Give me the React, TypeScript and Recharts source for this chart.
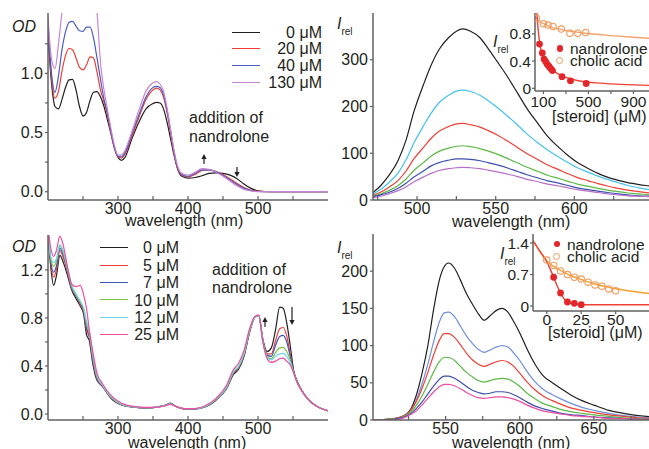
import React from 'react';
import { LineChart, ComposedChart, Line, Scatter, XAxis, YAxis } from 'recharts';

const FONT = '"Liberation Sans", Arial, Helvetica, sans-serif';
const INK = '#231f20';
const FRAME = '#606060';

// top left: absorption, nandrolone 0-130 uM
const absTopWl = [200, 205, 210, 215, 220, 225, 230, 235, 240, 245, 250, 255, 260, 265, 270, 275, 280, 285, 290, 295, 300, 305, 310,
  320, 330, 340, 350, 355, 360, 365, 370, 375, 380, 385, 390, 400, 410, 420, 430, 440, 450, 460, 470, 480, 490, 500, 520, 550, 600];
const absTop0 = [1.32, 0.92, 0.72, 0.70, 0.78, 0.88, 0.945, 0.95, 0.86, 0.72, 0.64, 0.67, 0.77, 0.84, 0.845, 0.80, 0.72, 0.605, 0.49, 0.37, 0.29, 0.265, 0.29,
  0.45, 0.59, 0.70, 0.745, 0.755, 0.75, 0.70, 0.59, 0.45, 0.31, 0.195, 0.135, 0.115, 0.12, 0.135, 0.155, 0.16, 0.155, 0.14, 0.11, 0.065, 0.028, 0.008, 0, 0, 0];
const absTop20 = [1.38, 0.96, 0.79, 0.85, 1.02, 1.15, 1.21, 1.20, 1.13, 1.05, 1.03, 1.07, 1.14, 1.13, 1.01, 0.86, 0.76, 0.65, 0.49, 0.365, 0.295, 0.285, 0.32,
  0.47, 0.63, 0.78, 0.86, 0.875, 0.86, 0.80, 0.67, 0.50, 0.33, 0.20, 0.145, 0.125, 0.145, 0.18, 0.185, 0.17, 0.145, 0.11, 0.07, 0.035, 0.012, 0.003, 0, 0, 0];
const absTop40 = [1.42, 1.00, 0.84, 0.98, 1.20, 1.35, 1.43, 1.44, 1.40, 1.36, 1.355, 1.39, 1.39, 1.30, 1.13, 0.95, 0.78, 0.665, 0.51, 0.37, 0.30, 0.295, 0.33,
  0.49, 0.65, 0.80, 0.88, 0.89, 0.88, 0.82, 0.69, 0.52, 0.34, 0.21, 0.15, 0.13, 0.155, 0.185, 0.185, 0.17, 0.14, 0.10, 0.06, 0.03, 0.01, 0.002, 0, 0, 0];
const absTop130 = [1.48, 1.12, 1.04, 1.25, 1.52, 1.75, 1.9, 2.0, 2.0, 1.95, 1.95, 1.98, 1.95, 1.80, 1.52, 1.09, 0.86, 0.69, 0.53, 0.39, 0.31, 0.31, 0.35,
  0.51, 0.69, 0.85, 0.92, 0.93, 0.91, 0.85, 0.71, 0.53, 0.35, 0.22, 0.16, 0.14, 0.165, 0.195, 0.19, 0.165, 0.13, 0.09, 0.05, 0.02, 0.006, 0, 0, 0, 0];
const absTopLabels = ['0 μM', '20 μM', '40 μM', '130 μM'];

// top right: emission, nandrolone titration
const emTopWl = [472, 477, 482, 488, 493, 498, 504, 509, 514, 520, 525, 529, 534, 540, 545, 551, 558, 564, 570, 577, 583, 590, 596, 602, 609, 615, 621, 628, 634, 641, 648, 655];
const emTopA = [16, 31, 52, 85, 128, 189, 246, 289, 322, 347, 361, 366, 361, 347, 325, 296, 261, 228, 195, 163, 136, 113, 95, 80, 67, 57, 49, 42, 37, 33, 30, 27];
const emTopB = [13, 23, 37, 58, 86, 122, 158, 186, 208, 224, 233, 235, 232, 224, 213, 198, 178, 160, 141, 122, 107, 92, 80, 69, 59, 51, 44, 37, 31, 26, 22, 19];
const emTopC = [10, 17, 27, 42, 62, 88, 112, 132, 147, 157, 163, 164, 161, 156, 149, 139, 125, 112, 99, 86, 75, 65, 56, 48, 41, 35, 30, 25, 21, 18, 15, 13];
const emTopD = [8, 13, 20, 31, 45, 63, 80, 94, 104, 111, 115, 116, 114, 110, 105, 98, 88, 79, 70, 61, 53, 46, 40, 34, 29, 25, 21, 18, 15, 13, 11, 10];
const emTopE = [7, 11, 16, 25, 36, 49, 62, 73, 80, 85, 88, 88, 87, 84, 80, 75, 68, 61, 54, 47, 41, 36, 31, 26, 22, 19, 16, 13, 11, 9, 8, 7];
const emTopF = [5, 8, 13, 20, 28, 39, 49, 57, 63, 67, 69, 70, 69, 67, 64, 60, 55, 50, 44, 39, 34, 30, 26, 22, 19, 16, 13, 11, 9, 8, 7, 6];

// top right inset: [steroid] (uM) vs I_rel
const nandTopX = [65, 90, 105, 120, 135, 150, 165, 180, 265, 340, 480];
const nandTopY = [0.65, 0.52, 0.43, 0.39, 0.35, 0.32, 0.29, 0.26, 0.17, 0.11, 0.07];
const cholTopX = [38, 100, 140, 185, 258, 335, 405, 475];
const cholTopY = [1.03, 0.95, 0.93, 0.91, 0.87, 0.81, 0.81, 0.82];
const nandTopFitX = [40, 50, 60, 70, 85, 100, 120, 140, 170, 200, 250, 300, 400, 500, 700, 900, 1100];
const nandTopFitY = [1.15, 0.92, 0.75, 0.63, 0.52, 0.45, 0.39, 0.34, 0.285, 0.245, 0.195, 0.16, 0.115, 0.09, 0.065, 0.05, 0.04];
const cholTopFitX = [25, 50, 100, 150, 200, 300, 400, 500, 700, 900, 1100];
const cholTopFitY = [1.06, 1.0, 0.95, 0.91, 0.885, 0.85, 0.825, 0.805, 0.775, 0.75, 0.73];

// bottom left: absorption, nandrolone 0-25 uM
const absBotWl = [200, 204, 208, 212, 217, 222, 228, 234, 240, 246, 251, 255, 259, 264, 270, 278, 290, 305, 320, 340,
  360, 368, 375, 382, 395, 410, 425, 440, 455, 465, 472, 480, 488, 495, 501, 507, 513, 519, 525, 531,
  536, 541, 546, 551, 556, 563, 572, 585, 600];
const absBot0 = [1.50, 1.22, 1.07, 1.15, 1.32, 1.26, 1.15, 1.03, 0.96, 0.90, 0.83, 0.66, 0.61, 0.42, 0.28, 0.23, 0.13, 0.075, 0.058, 0.05,
  0.063, 0.075, 0.09, 0.065, 0.042, 0.042, 0.06, 0.115, 0.21, 0.33, 0.37, 0.48, 0.68, 0.80, 0.82, 0.62, 0.52, 0.55, 0.70, 0.89,
  0.88, 0.76, 0.57, 0.36, 0.27, 0.19, 0.12, 0.06, 0.028];
const absBot5 = [1.52, 1.25, 1.14, 1.20, 1.36, 1.30, 1.18, 1.04, 0.98, 0.91, 0.85, 0.70, 0.64, 0.45, 0.29, 0.23, 0.135, 0.077, 0.059, 0.05,
  0.062, 0.073, 0.087, 0.064, 0.042, 0.043, 0.062, 0.118, 0.215, 0.34, 0.38, 0.49, 0.69, 0.80, 0.82, 0.61, 0.50, 0.50, 0.61, 0.71,
  0.72, 0.65, 0.50, 0.35, 0.27, 0.19, 0.12, 0.06, 0.027];
const absBot7 = [1.52, 1.27, 1.18, 1.23, 1.38, 1.32, 1.19, 1.05, 0.985, 0.92, 0.86, 0.72, 0.65, 0.46, 0.30, 0.23, 0.138, 0.078, 0.06, 0.051,
  0.062, 0.073, 0.086, 0.064, 0.043, 0.043, 0.063, 0.12, 0.218, 0.345, 0.385, 0.495, 0.69, 0.80, 0.82, 0.61, 0.49, 0.48, 0.57, 0.645,
  0.655, 0.60, 0.48, 0.35, 0.27, 0.19, 0.12, 0.06, 0.027];
const absBot10 = [1.53, 1.29, 1.23, 1.27, 1.40, 1.34, 1.20, 1.06, 0.99, 0.93, 0.87, 0.75, 0.67, 0.48, 0.31, 0.235, 0.14, 0.08, 0.061, 0.052,
  0.062, 0.072, 0.085, 0.064, 0.044, 0.044, 0.064, 0.122, 0.22, 0.35, 0.39, 0.50, 0.69, 0.80, 0.82, 0.60, 0.48, 0.46, 0.51, 0.55,
  0.555, 0.52, 0.45, 0.34, 0.26, 0.19, 0.12, 0.06, 0.026];
const absBot12 = [1.53, 1.31, 1.26, 1.29, 1.41, 1.35, 1.21, 1.07, 1.00, 0.94, 0.88, 0.77, 0.69, 0.49, 0.315, 0.24, 0.145, 0.082, 0.062, 0.053,
  0.062, 0.072, 0.084, 0.064, 0.044, 0.044, 0.065, 0.124, 0.222, 0.355, 0.395, 0.505, 0.70, 0.80, 0.82, 0.60, 0.47, 0.45, 0.48, 0.50,
  0.505, 0.48, 0.43, 0.34, 0.26, 0.19, 0.12, 0.06, 0.026];
const absBot25 = [1.55, 1.38, 1.31, 1.36, 1.48, 1.40, 1.22, 1.08, 1.06, 1.07, 0.99, 0.88, 0.70, 0.52, 0.34, 0.25, 0.155, 0.09, 0.065, 0.055,
  0.06, 0.07, 0.08, 0.065, 0.045, 0.045, 0.07, 0.13, 0.24, 0.37, 0.42, 0.53, 0.71, 0.81, 0.825, 0.60, 0.46, 0.43, 0.44, 0.46,
  0.465, 0.44, 0.41, 0.34, 0.26, 0.19, 0.12, 0.06, 0.025];
const absBotLabels = ['0 μM', '5 μM', '7 μM', '10 μM', '12 μM', '25 μM'];

// bottom right: emission
const emBotWl = [501, 510, 518, 522, 526, 530, 534, 538, 542, 546, 549, 552, 556, 560, 564, 568, 572, 576, 580, 584,
  588, 592, 596, 600, 605, 610, 616, 622, 628, 635, 642, 650, 660, 670, 680, 690, 700];
const emBotA = [0, 1, 3, 6, 13, 32, 62, 100, 150, 190, 206, 211, 204, 188, 170, 156, 143, 134, 140, 147, 150, 145, 132, 117, 95, 76, 59, 50, 42, 33, 26, 20, 13, 9, 6, 4, 3];
const emBotB = [0, 1, 3, 6, 12, 26, 48, 75, 106, 133, 144, 145, 139, 126, 113, 103, 95, 91, 94, 98, 100, 98, 90, 80, 65, 52, 41, 34, 28, 22, 17, 13, 9, 6, 4, 3, 2];
const emBotC = [0, 1, 3, 6, 12, 24, 42, 64, 88, 108, 116, 116, 111, 101, 90, 81, 75, 72, 75, 78, 80, 78, 72, 63, 51, 41, 32, 26, 21, 16, 13, 10, 7, 5, 3, 2, 1];
const emBotD = [0, 1, 2, 5, 10, 19, 32, 48, 65, 79, 84, 84, 80, 72, 64, 58, 53, 51, 53, 55, 56, 55, 51, 45, 36, 29, 22, 18, 14, 11, 9, 7, 5, 3, 2, 1, 1];
const emBotE = [0, 0, 2, 4, 8, 15, 24, 35, 46, 55, 59, 59, 56, 51, 45, 40, 37, 35, 36, 38, 38, 37, 34, 30, 24, 19, 15, 12, 9, 7, 6, 4, 3, 2, 1, 1, 0];
const emBotF = [0, 0, 1, 3, 7, 12, 20, 29, 38, 45, 48, 48, 46, 42, 37, 33, 30, 29, 30, 31, 31, 30, 28, 25, 20, 16, 12, 10, 8, 6, 5, 4, 2, 2, 1, 1, 0];

// bottom right inset
const nandBotX = [5, 10, 15, 20, 25];
const nandBotY = [0.64, 0.29, 0.09, 0.06, 0.03];
const cholBotX = [0, 5, 10, 15, 20, 25, 30, 35, 40, 45, 50];
const cholBotY = [1.02, 0.90, 0.78, 0.70, 0.64, 0.60, 0.53, 0.47, 0.44, 0.38, 0.34];
const nandBotFitX = [-10, -5, 0, 2.5, 5, 7.5, 10, 12.5, 15, 17.5, 20, 25, 30, 50, 80];
const nandBotFitY = [1.45, 1.22, 0.99, 0.82, 0.64, 0.45, 0.29, 0.16, 0.09, 0.06, 0.045, 0.035, 0.03, 0.03, 0.03];
const cholBotFitX = [-10, -5, 0, 5, 10, 15, 20, 25, 30, 35, 40, 45, 50, 60, 70, 80];
const cholBotFitY = [1.45, 1.21, 1.0, 0.88, 0.79, 0.71, 0.645, 0.59, 0.535, 0.49, 0.45, 0.415, 0.385, 0.335, 0.295, 0.26];

const pairs = (xs: number[], ys: number[]) => xs.map((x, i) => ({ x, y: ys[i] }));

function InTick(props: any) {
  const { x, y, payload, show } = props;
  const v = payload.value;
  const axisY = y - 3;
  return (
    <g>
      <line x1={x} x2={x} y1={axisY} y2={axisY - 4} stroke={FRAME} strokeWidth={1.2} />
      {show.includes(v) ? (
        <text x={x} y={y} dy="0.71em" textAnchor="middle" fontSize={16} fontFamily={FONT} fill={INK}>{v}</text>
      ) : null}
    </g>
  );
}

function Spectrum(props: any) {
  const { left, top, yW, plotW, plotH, xDomain, yDomain, xTicks, xShow, yTicks, yFmt, xs, ys, colors } = props;
  const rows = xs.map((x: number, i: number) => {
    const r: any = { x };
    ys.forEach((s: number[], k: number) => { r['s' + k] = s[i]; });
    return r;
  });
  const axisLine = { stroke: FRAME, strokeWidth: 1.5 };
  return (
    <div style={{ position: 'absolute', left, top }}>
      <LineChart width={yW + plotW + 5} height={5 + plotH + 25} data={rows} margin={{ top: 5, right: 5, bottom: 0, left: 0 }}>
        <XAxis xAxisId="b" dataKey="x" type="number" domain={xDomain} allowDataOverflow ticks={xTicks} interval={0}
          height={25} tickSize={0} tickMargin={3} tickLine={false} axisLine={axisLine}
          tick={(p: any) => <InTick {...p} show={xShow} />} />
        <XAxis xAxisId="t" orientation="top" dataKey="x" type="number" domain={xDomain} allowDataOverflow
          height={0} tick={false} tickLine={false} axisLine={axisLine} />
        <YAxis yAxisId="l" type="number" domain={yDomain} allowDataOverflow ticks={yTicks} interval={0} width={yW}
          tickSize={3} tickMargin={2} tickFormatter={yFmt} tick={{ fontSize: 16, fill: INK, fontFamily: FONT }}
          tickLine={{ stroke: FRAME, strokeWidth: 1.2 }} axisLine={axisLine} />
        <YAxis yAxisId="r" orientation="right" type="number" domain={yDomain} allowDataOverflow width={0}
          tick={false} tickLine={false} axisLine={axisLine} />
        {ys.map((_: number[], k: number) => (
          <Line key={k} xAxisId="b" yAxisId="l" dataKey={'s' + k} type="monotone" stroke={colors[k]} strokeWidth={1.2}
            dot={false} activeDot={false} isAnimationActive={false} />
        ))}
      </LineChart>
    </div>
  );
}

const Dot = (p: any) => <circle cx={p.cx} cy={p.cy} r={3.4} fill="#e3262a" />;
const Ring = (p: any) => <circle cx={p.cx} cy={p.cy} r={3.2} fill="none" stroke="#f2995a" strokeWidth={1.1} />;

function Inset(props: any) {
  const { left, top, yW, plotW, plotH, xDomain, yDomain, xTicks, xFmt, xMargin, yTicks, yFmt, nand, chol, nandFit, cholFit, cholColor } = props;
  const axisLine = { stroke: FRAME, strokeWidth: 1.5 };
  const tick = { fontSize: 15.5, fill: INK, fontFamily: FONT };
  return (
    <div style={{ position: 'absolute', left, top }}>
      <ComposedChart width={yW + plotW + 5} height={5 + plotH + 22} margin={{ top: 5, right: 5, bottom: 0, left: 0 }}>
        <XAxis dataKey="x" type="number" domain={xDomain} allowDataOverflow ticks={xTicks} interval={0} tickFormatter={xFmt}
          height={22} tickSize={3} tickMargin={xMargin} tick={tick} tickLine={{ stroke: FRAME, strokeWidth: 1.2 }} axisLine={axisLine} />
        <YAxis type="number" domain={yDomain} allowDataOverflow ticks={yTicks} interval={0} tickFormatter={yFmt}
          width={yW} tickSize={3} tickMargin={1} tick={tick} tickLine={{ stroke: FRAME, strokeWidth: 1.2 }} axisLine={axisLine} />
        <Line data={cholFit} dataKey="y" type="monotone" stroke={cholColor} strokeWidth={1.4} dot={false} activeDot={false} isAnimationActive={false} />
        <Line data={nandFit} dataKey="y" type="monotone" stroke="#ef4136" strokeWidth={1.4} dot={false} activeDot={false} isAnimationActive={false} />
        <Scatter data={chol} dataKey="y" shape={Ring} isAnimationActive={false} />
        <Scatter data={nand} dataKey="y" shape={Dot} isAnimationActive={false} />
      </ComposedChart>
    </div>
  );
}

function Txt({ x, cy, size = 16, italic = false, children }: any) {
  return (
    <div style={{ position: 'absolute', left: x, top: cy - size * 0.6, fontSize: size, lineHeight: `${size * 1.2}px`,
      fontStyle: italic ? 'italic' : 'normal', whiteSpace: 'nowrap', color: INK }}>{children}</div>
  );
}

function Irel({ x, cy }: any) {
  return (
    <Txt x={x} cy={cy} italic>
      I<span style={{ fontStyle: 'normal', fontSize: 10, position: 'relative', top: 6, marginLeft: 0 }}>rel</span>
    </Txt>
  );
}

function LineLegend({ x0, x1, xr, cy0, step, labels, colors }: any) {
  return (
    <>
      {labels.map((l: string, i: number) => {
        const cy = cy0 + i * step;
        return (
          <React.Fragment key={l}>
            <div style={{ position: 'absolute', left: x0, top: cy - 0.8, width: x1 - x0, height: 0, borderTop: `1.6px solid ${colors[i]}` }} />
            <div style={{ position: 'absolute', right: 649 - xr, top: cy - 9.6, fontSize: 16, lineHeight: '19.2px', whiteSpace: 'nowrap', color: INK }}>{l}</div>
          </React.Fragment>
        );
      })}
    </>
  );
}

function PointLegend({ x, cy0, step }: any) {
  return (
    <>
      <div style={{ position: 'absolute', left: x - 3.4, top: cy0 - 3.4, width: 6.8, height: 6.8, borderRadius: '50%', background: '#e3262a' }} />
      <Txt x={x + 10} cy={cy0 + 1} size={15.5}>nandrolone</Txt>
      <div style={{ position: 'absolute', left: x - 3.7, top: cy0 + step - 3.7, width: 5.2, height: 5.2, borderRadius: '50%', border: '1.1px solid #f2995a' }} />
      <Txt x={x + 10} cy={cy0 + step + 1} size={15.5}>cholic acid</Txt>
    </>
  );
}

function Arrow({ x, y0, y1 }: any) {
  const d = Math.sign(y1 - y0);
  return (
    <g>
      <line x1={x} x2={x} y1={y0} y2={y1 - d * 4} stroke={INK} strokeWidth={1.2} />
      <polygon points={`${x - 2.6},${y1 - d * 5} ${x + 2.6},${y1 - d * 5} ${x},${y1}`} fill={INK} />
    </g>
  );
}

const colTL = ['#231f20', '#ef3e36', '#4a5cbf', '#c885d3'];
const colTR = ['#231f20', '#45c1ef', '#ef3e36', '#5cb946', '#3e4fae', '#b56fc6'];
const colBL = ['#231f20', '#ef3e36', '#3d55b9', '#7dc143', '#6fd3f2', '#ef4d9f'];
const colBR = ['#231f20', '#6d8fdc', '#ef3e36', '#5cb946', '#3e4fae', '#ec4fa0'];

export default function App() {
  const fmtHalf = (v: number) => (Math.round(v * 4) % 2 === 0 ? v.toFixed(1) : '');
  const fmtFour = (v: number) => (Math.round(v * 10) % 4 === 0 ? v.toFixed(1) : '');
  const fmtInset = (v: number) => (v === 0 ? '0' : v.toFixed(1));
  return (
    <div style={{ position: 'absolute', left: 0, top: 0, width: 649, height: 449, overflow: 'hidden', background: '#fff', fontFamily: FONT }}>
      <Spectrum left={0} top={8} yW={48} plotW={280} plotH={187} xDomain={[200, 600]} yDomain={[-0.07, 1.51]}
        xTicks={[250, 300, 350, 400, 450, 500, 550]} xShow={[300, 400, 500]} yTicks={[0, 0.25, 0.5, 0.75, 1, 1.25]} yFmt={fmtHalf}
        xs={absTopWl} ys={[absTop0, absTop20, absTop40, absTop130]} colors={colTL} />
      <Spectrum left={330} top={8} yW={43} plotW={280} plotH={187} xDomain={[472, 650]} yDomain={[0, 400]}
        xTicks={[475, 500, 525, 550, 575, 600, 625]} xShow={[500, 550, 600]} yTicks={[0, 100, 200, 300]} yFmt={(v: number) => String(v)}
        xs={emTopWl} ys={[emTopA, emTopB, emTopC, emTopD, emTopE, emTopF]} colors={colTR} />
      <Spectrum left={0} top={230} yW={48} plotW={280} plotH={185} xDomain={[200, 600]} yDomain={[-0.05, 1.49]}
        xTicks={[250, 300, 350, 400, 450, 500, 550]} xShow={[300, 400, 500]} yTicks={[0, 0.2, 0.4, 0.6, 0.8, 1.0, 1.2]} yFmt={fmtFour}
        xs={absBotWl} ys={[absBot0, absBot5, absBot7, absBot10, absBot12, absBot25]} colors={colBL} />
      <Spectrum left={330} top={229} yW={43} plotW={295} plotH={186} xDomain={[501, 700]} yDomain={[0, 250]}
        xTicks={[525, 550, 575, 600, 625, 650, 675]} xShow={[550, 600, 650]} yTicks={[0, 50, 100, 150, 200]} yFmt={(v: number) => String(v)}
        xs={emBotWl} ys={[emBotA, emBotB, emBotC, emBotD, emBotE, emBotF]} colors={colBR} />

      <Inset left={500} top={8} yW={35} plotW={121} plotH={78} xDomain={[25, 1100]} yDomain={[-0.04, 1.107]}
        xTicks={[100, 300, 500, 700, 900]} xFmt={(v: number) => (v === 300 || v === 700 ? '' : String(v))} xMargin={2}
        yTicks={[0, 0.4, 0.8]} yFmt={fmtInset}
        nand={pairs(nandTopX, nandTopY)} chol={pairs(cholTopX, cholTopY)}
        nandFit={pairs(nandTopFitX, nandTopFitY)} cholFit={pairs(cholTopFitX, cholTopFitY)} cholColor="#f6a36c" />
      <Inset left={498} top={229} yW={35} plotW={124} plotH={77} xDomain={[-10, 80]} yDomain={[-0.11, 1.6]}
        xTicks={[0, 25, 50]} xFmt={(v: number) => String(v)} xMargin={0}
        yTicks={[0, 0.7, 1.4]} yFmt={fmtInset}
        nand={pairs(nandBotX, nandBotY)} chol={pairs(cholBotX, cholBotY)}
        nandFit={pairs(nandBotFitX, nandBotFitY)} cholFit={pairs(cholBotFitX, cholBotFitY)} cholColor="#f7a12e" />

      <Txt x={12} cy={26.7} italic>OD</Txt>
      <Txt x={12} cy={246.7} italic>OD</Txt>
      <Irel x={337} cy={24} />
      <Irel x={337} cy={247.7} />
      <Irel x={493} cy={41.7} />
      <Irel x={500} cy={253.3} />

      <Txt x={125} cy={220.5}>wavelength (nm)</Txt>
      <Txt x={452} cy={221.7}>wavelength (nm)</Txt>
      <Txt x={128} cy={443}>wavelength (nm)</Txt>
      <Txt x={452} cy={443}>wavelength (nm)</Txt>
      <Txt x={552} cy={116.7}>[steroid] (μM)</Txt>
      <Txt x={548} cy={333}>[steroid] (μM)</Txt>

      <LineLegend x0={232} x1={260} xr={322} cy0={32.3} step={16.7} labels={absTopLabels} colors={colTL} />
      <LineLegend x0={100} x1={128} xr={179} cy0={248} step={17.4} labels={absBotLabels} colors={colBL} />
      <PointLegend x={560} cy0={48.3} step={12.4} />
      <PointLegend x={557} cy0={244} step={12.7} />

      <Txt x={189} cy={118}>addition of</Txt>
      <Txt x={189} cy={137}>nandrolone</Txt>
      <Txt x={212} cy={270}>addition of</Txt>
      <Txt x={212} cy={288}>nandrolone</Txt>
      <svg width={649} height={449} style={{ position: 'absolute', left: 0, top: 0, pointerEvents: 'none' }}>
        <Arrow x={204} y0={164} y1={154} />
        <Arrow x={237} y0={167} y1={177} />
        <Arrow x={265} y0={327} y1={317} />
        <Arrow x={292} y0={307} y1={325} />
      </svg>
    </div>
  );
}
